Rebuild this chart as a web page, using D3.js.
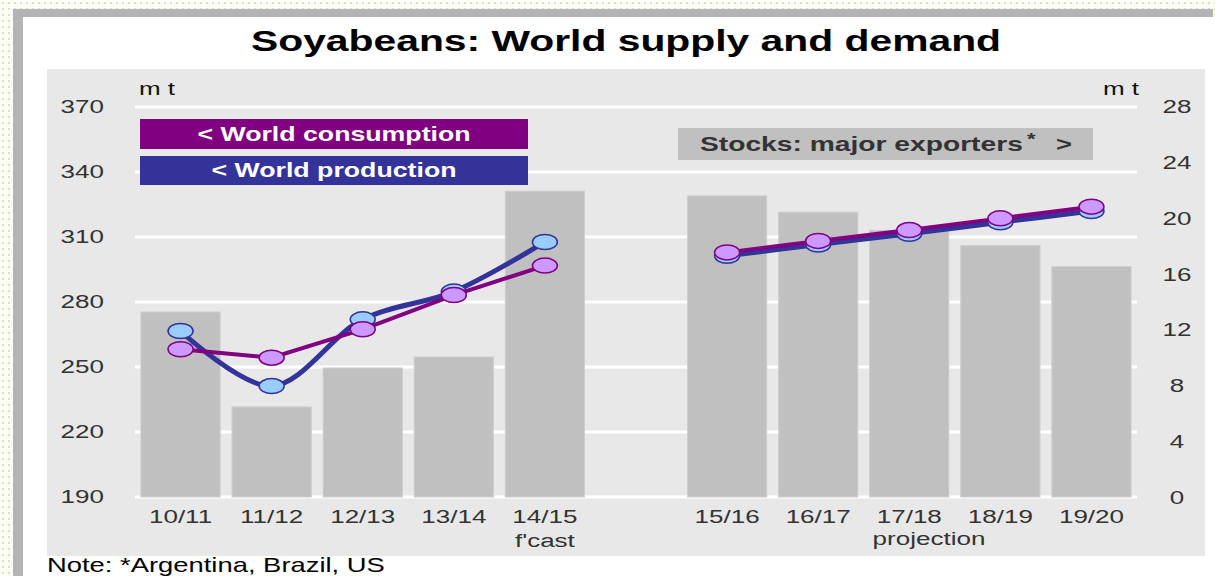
<!DOCTYPE html>
<html>
<head>
<meta charset="utf-8">
<script src="https://cdn.jsdelivr.net/npm/d3@7"></script>
<style>
body{margin:0;background:#fff;}
svg{display:block;font-family:"Liberation Sans",Arial,sans-serif;}
</style>
</head>
<body>
<div id="chart"></div>
<script>
(function(){

const width = 1215;
const height = 576;
const SX = 1.37; // the picture is stretched sideways, text follows

// data
const seasons = ["10/11","11/12","12/13","13/14","14/15","15/16","16/17","17/18","18/19","19/20"];
const production = [266.6,241.2,272,284.8,307.7,301.3,306.5,311.5,316.8,322];
const consumption = [258.2,254.3,267.4,283.2,296.8,302.9,308.2,313.2,318.6,324];
const stocks = [13.25,6.45,9.24,10.03,21.9,21.56,20.4,19.1,18.0,16.5];
const leftTicks = [190,220,250,280,310,340,370];
const rightTicks = [0,4,8,12,16,20,24,28];
const slots = ["10/11","11/12","12/13","13/14","14/15","gap","15/16","16/17","17/18","18/19","19/20"];

const svg = d3.select("#chart")
.append("svg")
.attr("width",width)
.attr("height",height);

// dotted page background
const defs = svg.append("defs");
const pat = defs.append("pattern")
.attr("id","dots").attr("width",6).attr("height",6)
.attr("patternUnits","userSpaceOnUse");
pat.append("rect").attr("width",6).attr("height",6).attr("fill","#fbfcf6");
pat.append("rect").attr("x",2).attr("y",2).attr("width",2).attr("height",2).attr("fill","#d9e3bd");

svg.append("rect").attr("width",width).attr("height",height).attr("fill","url(#dots)");
svg.append("rect").attr("x",13).attr("y",9).attr("width",1200).attr("height",height).attr("fill","#b4b4b4");
svg.append("rect").attr("x",23).attr("y",17).attr("width",1192).attr("height",height).attr("fill","#fff");

// plot panel
svg.append("rect").attr("x",47).attr("y",69).attr("width",1158).attr("height",487).attr("fill","#e8e8e8");

const x = d3.scaleBand()
.domain(slots)
.range([135,1137])
.paddingInner(0.13)
.paddingOuter(0.065);

const yL = d3.scaleLinear().domain([190,370]).range([497,107]);
const yR = d3.scaleLinear().domain([0,28]).range([497,106]);

function label(g,px,py,str,o){
  return g.append("text")
  .attr("transform",`translate(${px},${py}) scale(${SX},1)`)
  .attr("text-anchor",o.anchor||"middle")
  .attr("font-size",o.size+"px")
  .attr("font-weight",o.weight||"normal")
  .attr("fill",o.fill||"#333")
  .text(str);
}

// gridlines
svg.append("g")
.selectAll("line")
.data(leftTicks)
.join("line")
.attr("x1",135).attr("x2",1137)
.attr("y1",d=>yL(d)).attr("y2",d=>yL(d))
.attr("stroke","#fff").attr("stroke-width",3);

// bars
svg.append("g")
.selectAll("rect")
.data(seasons)
.join("rect")
.attr("x",d=>x(d))
.attr("width",x.bandwidth())
.attr("y",(d,i)=>yR(stocks[i]))
.attr("height",(d,i)=>yR(0)-yR(stocks[i]))
.attr("fill","#c0c0c0")
.attr("stroke","#cfcfcf")
.attr("stroke-width",1);

// axis labels
const ax = svg.append("g");
leftTicks.forEach(t=>label(ax,104,yL(t)+6,t,{size:19,anchor:"end"}));
rightTicks.forEach(t=>label(ax,1177,yR(t)+7,t,{size:19}));
seasons.forEach(s=>label(ax,x(s)+x.bandwidth()/2,523,s,{size:19}));
label(ax,x("14/15")+x.bandwidth()/2,547,"f'cast",{size:19});
label(ax,929,545,"projection",{size:19});
label(ax,157,95,"m t",{size:19,fill:"#111"});
label(ax,1121,95,"m t",{size:19,fill:"#111"});

// lines, first five are history, last five projection
const parts = [[0,5],[5,10]];
const cx = i=>x(seasons[i])+x.bandwidth()/2;

function series(vals,stroke,fill,sw,curve){
  const g = svg.append("g");
  const line = d3.line()
  .x(i=>cx(i))
  .y(i=>yL(vals[i]))
  .curve(curve);
  parts.forEach(p=>{
    g.append("path")
    .datum(d3.range(p[0],p[1]))
    .attr("fill","none")
    .attr("stroke",stroke)
    .attr("stroke-width",sw)
    .attr("d",line);
  });
  g.selectAll("ellipse")
  .data(vals)
  .join("ellipse")
  .attr("cx",(d,i)=>cx(i))
  .attr("cy",d=>yL(d))
  .attr("rx",12.5)
  .attr("ry",7.5)
  .attr("fill",fill)
  .attr("stroke",stroke)
  .attr("stroke-width",1.5);
}

series(production,"#333399","#99ccff",5,d3.curveCatmullRom.alpha(0.5));
series(consumption,"#800080","#cc99ff",4,d3.curveLinear);

// legend boxes
const lg = svg.append("g");
lg.append("rect").attr("x",140).attr("y",119).attr("width",388).attr("height",30).attr("fill","#800080");
lg.append("rect").attr("x",140).attr("y",156).attr("width",388).attr("height",29).attr("fill","#333399");
label(lg,334,141,"< World consumption",{size:19.5,weight:"bold",fill:"#fff"});
label(lg,334,177,"< World production",{size:19.5,weight:"bold",fill:"#fff"});
lg.append("rect").attr("x",678).attr("y",128).attr("width",415).attr("height",32).attr("fill","#c0c0c0");
label(lg,700,151,"Stocks: major exporters",{size:20.6,weight:"bold",fill:"#333",anchor:"start"});
label(lg,1027,145,"*",{size:16,weight:"bold",fill:"#333",anchor:"start"});
label(lg,1056,151,">",{size:20,weight:"bold",fill:"#333",anchor:"start"});

// title
label(svg,626,51,"Soyabeans: World supply and demand",{size:29.8,weight:"bold",fill:"#000"});

// note
label(svg,47,572,"Note: *Argentina, Brazil, US",{size:20,anchor:"start",fill:"#000"});

})();
</script>
</body>
</html>
